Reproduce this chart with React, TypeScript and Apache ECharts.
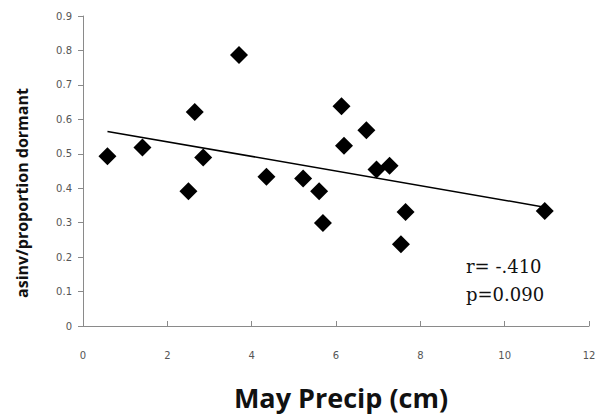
import React, { useEffect, useRef } from "react";
import * as echarts from "echarts";

const precip = [0.58, 1.41, 2.5, 2.65, 2.85, 3.7, 4.35, 5.22, 5.6, 5.69, 6.13, 6.19, 6.72, 6.96, 7.27, 7.54, 7.65, 10.95];
const dormant = [0.493, 0.518, 0.391, 0.621, 0.489, 0.787, 0.433, 0.428, 0.391, 0.299, 0.638, 0.523, 0.568, 0.454, 0.465, 0.237, 0.331, 0.334];
const trendX = [0.58, 10.95];
const trendY = [0.565, 0.345];
const statLines = ["r= -.410", "p=0.090"];
const xTitle = "May Precip (cm)";
const yTitle = "asinv/proportion dormant";

export default function App() {
  const ref = useRef<HTMLDivElement>(null);
  useEffect(() => {
    if (!ref.current) return;
    const chart = echarts.init(ref.current, null, { renderer: "svg" });
    const axisLine = { show: true, lineStyle: { color: "#8a8a8a", width: 1 } };
    chart.setOption({
      animation: false,
      backgroundColor: "#ffffff",
      grid: { left: 83, right: 11, top: 16, bottom: 92 },
      xAxis: {
        type: "value",
        min: 0,
        max: 12,
        interval: 2,
        axisLine,
        axisTick: { show: true, inside: true, length: 5, lineStyle: { color: "#8a8a8a" } },
        splitLine: { show: false },
        axisLabel: { color: "#555", fontSize: 10, fontFamily: "DejaVu Sans", margin: 24 },
      },
      yAxis: {
        type: "value",
        min: 0,
        max: 0.9,
        interval: 0.1,
        axisLine,
        axisTick: { show: true, inside: false, length: 5, lineStyle: { color: "#8a8a8a" } },
        splitLine: { show: false },
        axisLabel: {
          color: "#555",
          fontSize: 10,
          fontFamily: "DejaVu Sans",
          margin: 11,
          formatter: (v: number) => (v === 0 ? "0" : String(Math.round(v * 10) / 10)),
        },
      },
      series: [
        {
          type: "line",
          data: trendX.map((x, i) => [x, trendY[i]]),
          showSymbol: false,
          symbol: "none",
          lineStyle: { color: "#000", width: 1.5 },
          z: 2,
        },
        {
          type: "scatter",
          data: precip.map((x, i) => [x, dormant[i]]),
          symbol: "diamond",
          symbolSize: 18,
          itemStyle: { color: "#000", opacity: 1 },
          z: 3,
        },
      ],
      graphic: [
        {
          type: "text",
          x: 341,
          y: 397,
          style: {
            text: xTitle,
            fill: "#111",
            fontSize: 27,
            fontWeight: "bold",
            fontFamily: "Open Sans",
            align: "center",
            verticalAlign: "middle",
          },
        },
        {
          type: "text",
          x: 22,
          y: 193,
          rotation: Math.PI / 2,
          style: {
            text: yTitle,
            fill: "#111",
            fontSize: 16,
            fontWeight: "bold",
            fontFamily: "Open Sans",
            align: "center",
            verticalAlign: "middle",
          },
        },
        {
          type: "text",
          x: 466,
          y: 252,
          style: {
            text: statLines.join("\n"),
            fill: "#111",
            fontSize: 18,
            lineHeight: 28,
            fontFamily: "DejaVu Serif",
            verticalAlign: "top",
          },
        },
      ],
    });
    return () => chart.dispose();
  }, []);
  return <div ref={ref} style={{ width: 600, height: 418, position: "absolute", left: 0, top: 0 }} />;
}
